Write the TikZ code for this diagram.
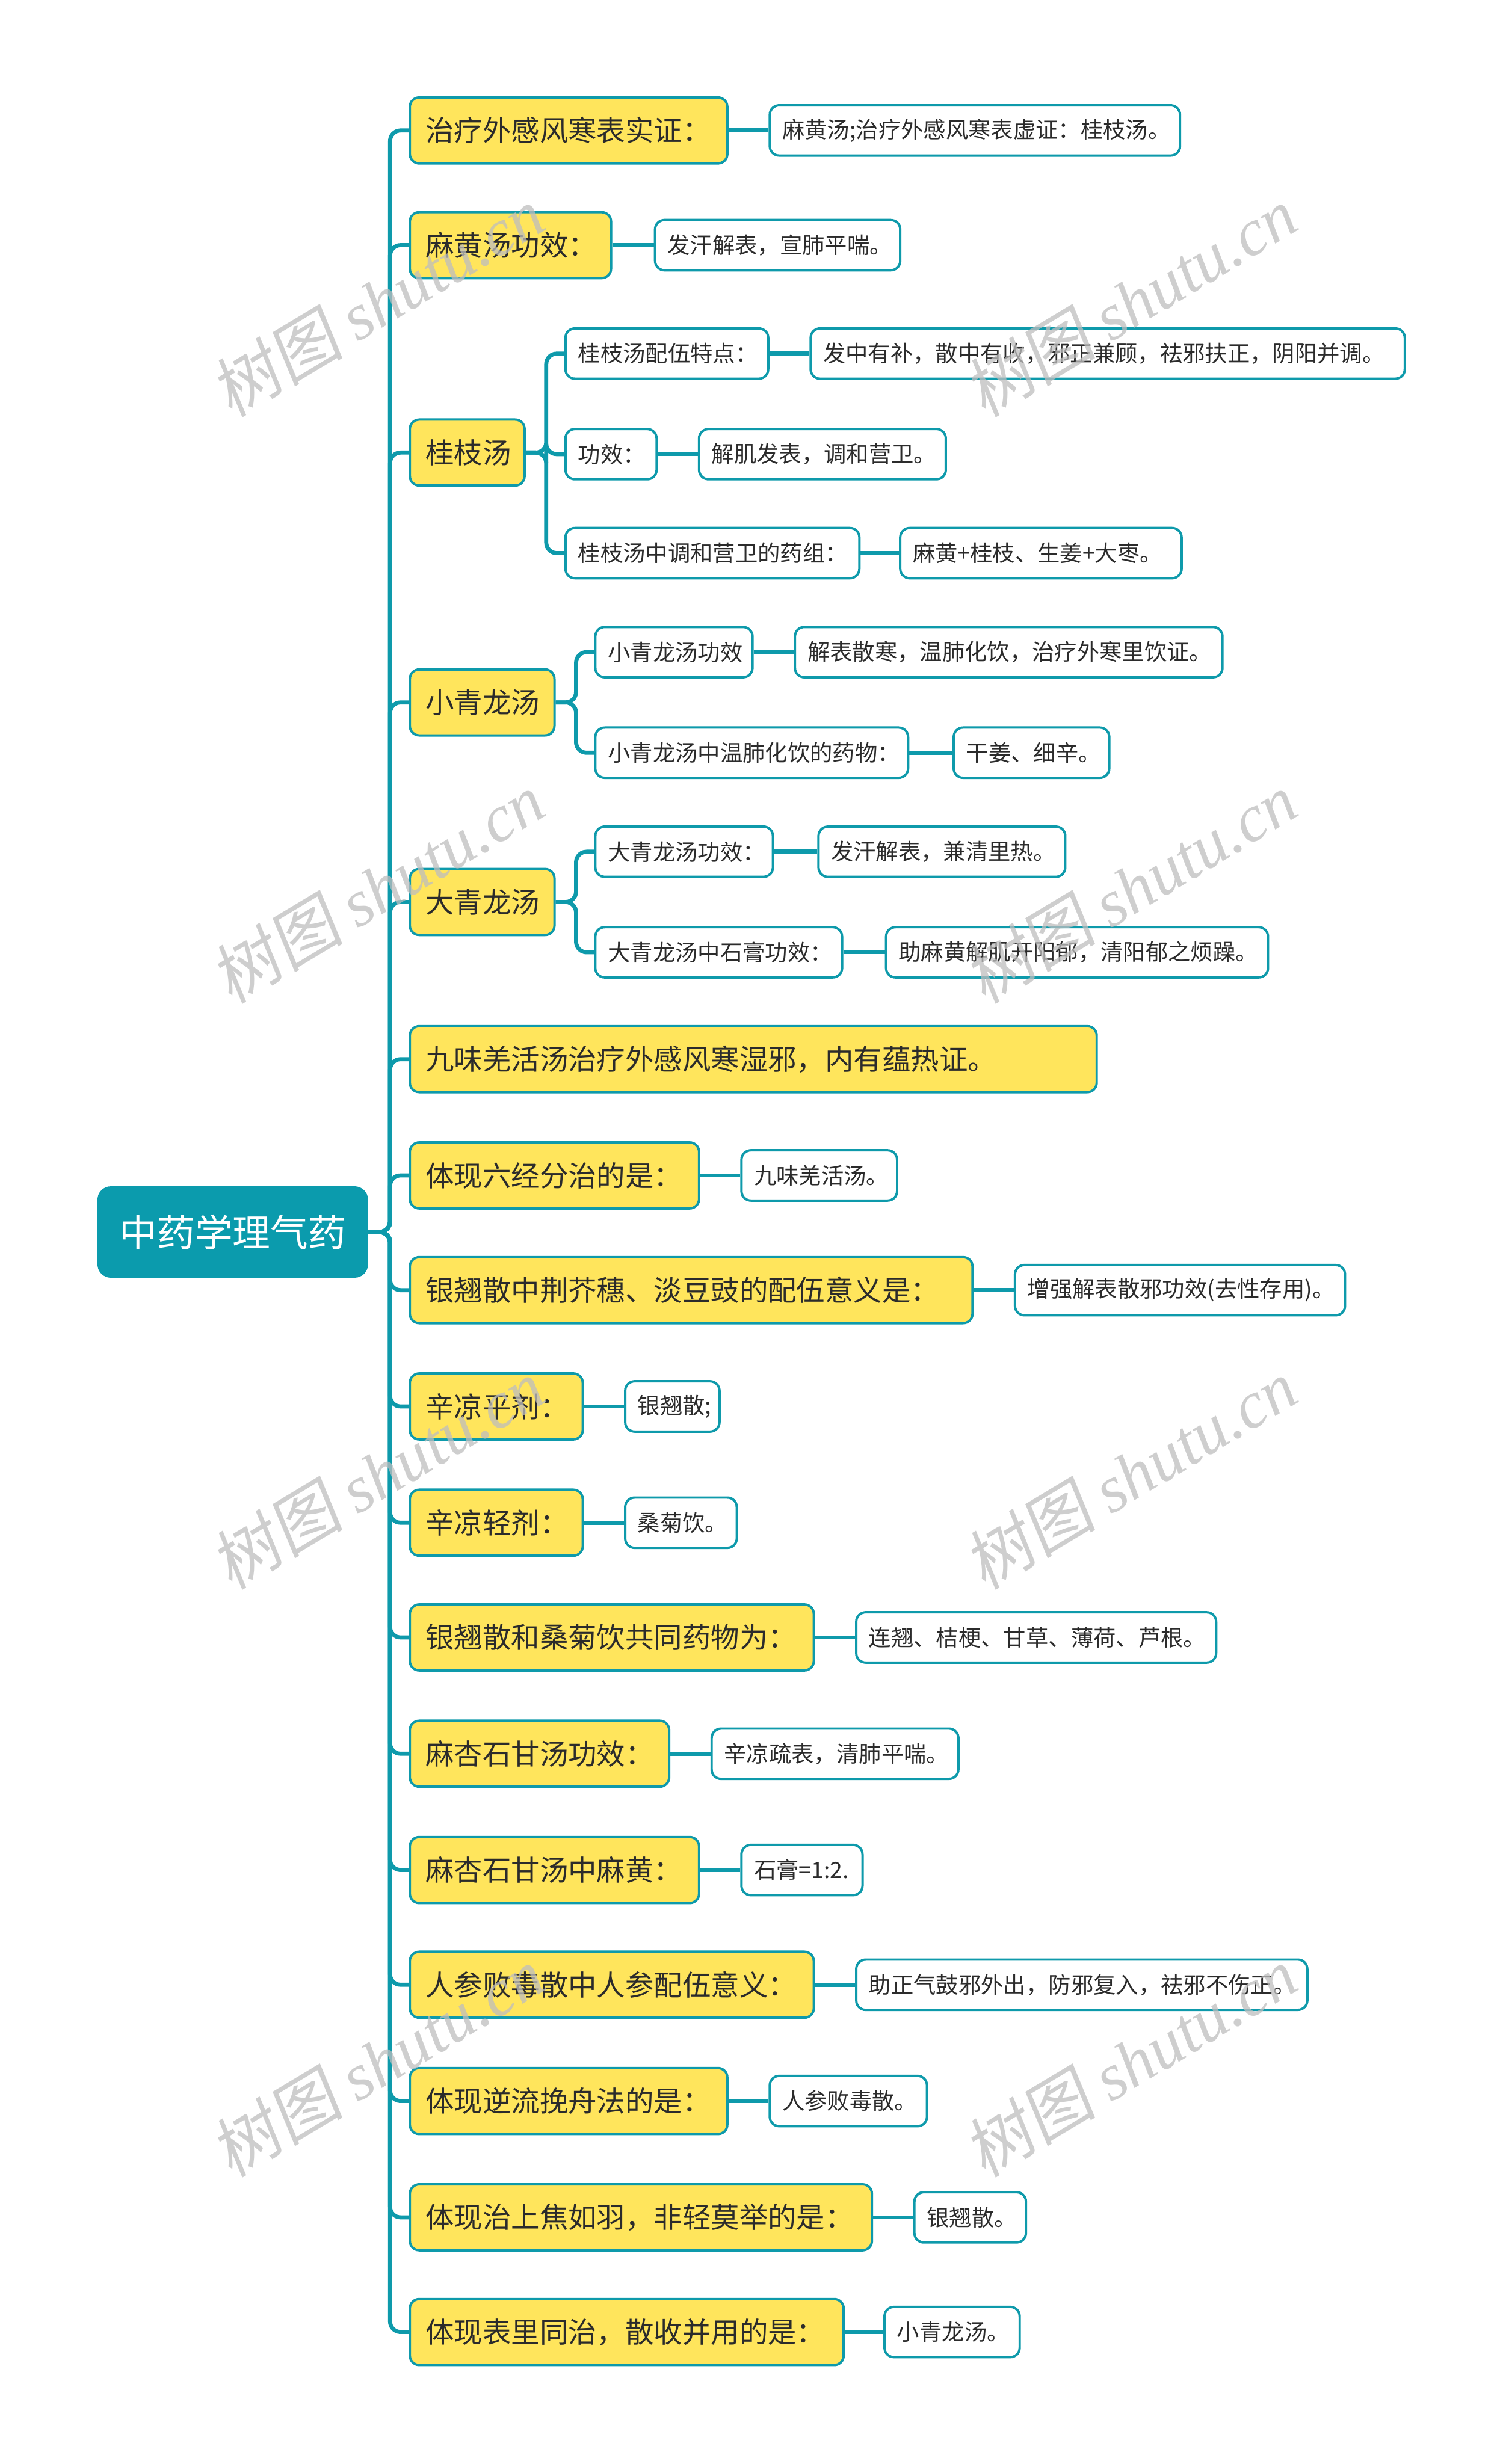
\documentclass[tikz,border=0pt]{standalone}
\usepackage{fontspec}
\setmainfont{Noto Sans CJK SC}
\newfontfamily\wmcjk[FakeSlant=0.15]{Noto Sans CJK SC}
\newfontfamily\wmlat{Liberation Serif}
\definecolor{tealc}{HTML}{0E9AAB}
\definecolor{rootc}{HTML}{0B9BAD}
\definecolor{yel}{HTML}{FFE55C}
\definecolor{txt}{HTML}{2B2B2B}
\definecolor{wmc}{HTML}{BEBEBE}
\newlength\uw
\setlength\uw{0.03cm}
\newcommand\yt[2]{\makebox[\dimexpr#1\uw-20\uw\relax][l]{#2}}
\newcommand\wt[2]{\makebox[\dimexpr#1\uw-16\uw\relax][l]{#2}}
\begin{document}
\begin{tikzpicture}[x=0.03cm,y=-0.03cm,
  ybox/.style={draw=tealc, line width=1.3pt, fill=yel, rounded corners=0.18cm,
    minimum height=1.26cm, inner xsep=0.3cm, inner ysep=0pt, anchor=west,
    text=txt, font=\fontsize{15.5}{18}\selectfont},
  wbox/.style={draw=tealc, line width=1.3pt, fill=white, rounded corners=0.18cm,
    minimum height=0.96cm, inner xsep=0.24cm, inner ysep=0pt, anchor=west,
    text=txt, font=\fontsize{12.2}{14}\selectfont},
  rootbox/.style={draw=rootc, line width=1pt, fill=rootc, rounded corners=0.24cm,
    minimum height=1.71cm, minimum width=5.13cm, inner sep=0pt, anchor=west,
    text=white, font=\fontsize{20.5}{24}\selectfont},
  conn/.style={draw=tealc, line width=2.2pt, rounded corners=0.2cm},
  link/.style={draw=tealc, line width=2.2pt},
  wm/.style={text=wmc, opacity=0.75, rotate=31, inner sep=0pt,
    font=\fontsize{36}{40}\selectfont}
]
\useasboundingbox (0,0) rectangle (956,1568);

% root
\node[rootbox] (root) at (62,784) {中药学理气药};

% level 1
\node[ybox] (n1) at (260,83) {\yt{202}{治疗外感风寒表实证：}};
\node[ybox] (n2) at (260,156) {\yt{128}{麻黄汤功效：}};
\node[ybox] (n3) at (260,288) {\yt{73}{桂枝汤}};
\node[ybox] (n4) at (260,447) {\yt{92}{小青龙汤}};
\node[ybox] (n5) at (260,574) {\yt{92}{大青龙汤}};
\node[ybox] (n6) at (260,674) {\yt{437}{九味羌活汤治疗外感风寒湿邪，内有蕴热证。}};
\node[ybox] (n7) at (260,748) {\yt{184}{体现六经分治的是：}};
\node[ybox] (n8) at (260,821) {\yt{358}{银翘散中荆芥穗、淡豆豉的配伍意义是：}};
\node[ybox] (n9) at (260,895) {\yt{110}{辛凉平剂：}};
\node[ybox] (n10) at (260,969) {\yt{110}{辛凉轻剂：}};
\node[ybox] (n11) at (260,1042) {\yt{257}{银翘散和桑菊饮共同药物为：}};
\node[ybox] (n12) at (260,1116) {\yt{165}{麻杏石甘汤功效：}};
\node[ybox] (n13) at (260,1190) {\yt{184}{麻杏石甘汤中麻黄：}};
\node[ybox] (n14) at (260,1263) {\yt{257}{人参败毒散中人参配伍意义：}};
\node[ybox] (n15) at (260,1337) {\yt{202}{体现逆流挽舟法的是：}};
\node[ybox] (n16) at (260,1411) {\yt{294}{体现治上焦如羽，非轻莫举的是：}};
\node[ybox] (n17) at (260,1484) {\yt{276}{体现表里同治，散收并用的是：}};

% level 2 / 3
\node[wbox] (c1) at (489,83) {\wt{261}{麻黄汤;治疗外感风寒表虚证：桂枝汤。}};
\node[wbox] (c2) at (416,156) {\wt{156}{发汗解表，宣肺平喘。}};

\node[wbox] (n3a) at (359,225) {\wt{129}{桂枝汤配伍特点：}};
\node[wbox] (n3aa) at (515,225) {\wt{378}{发中有补，散中有收，邪正兼顾，祛邪扶正，阴阳并调。}};
\node[wbox] (n3b) at (359,289) {\wt{58}{功效：}};
\node[wbox] (n3ba) at (444,289) {\wt{157}{解肌发表，调和营卫。}};
\node[wbox] (n3c) at (359,352) {\wt{187}{桂枝汤中调和营卫的药组：}};
\node[wbox] (n3ca) at (572,352) {\wt{179}{麻黄+桂枝、生姜+大枣。}};

\node[wbox] (n4a) at (378,415) {\wt{100}{小青龙汤功效}};
\node[wbox] (n4aa) at (505,415) {\wt{272}{解表散寒，温肺化饮，治疗外寒里饮证。}};
\node[wbox] (n4b) at (378,479) {\wt{199}{小青龙汤中温肺化饮的药物：}};
\node[wbox] (n4ba) at (606,479) {\wt{99}{干姜、细辛。}};

\node[wbox] (n5a) at (378,542) {\wt{113}{大青龙汤功效：}};
\node[wbox] (n5aa) at (520,542) {\wt{157}{发汗解表，兼清里热。}};
\node[wbox] (n5b) at (378,606) {\wt{157}{大青龙汤中石膏功效：}};
\node[wbox] (n5ba) at (563,606) {\wt{243}{助麻黄解肌开阳郁，清阳郁之烦躁。}};

\node[wbox] (c7) at (471,748) {\wt{99}{九味羌活汤。}};
\node[wbox] (c8) at (645,821) {\wt{210}{增强解表散邪功效(去性存用)。}};
\node[wbox] (c9) at (397,895) {\wt{60}{银翘散;}};
\node[wbox] (c10) at (397,969) {\wt{71}{桑菊饮。}};
\node[wbox] (c11) at (544,1042) {\wt{229}{连翘、桔梗、甘草、薄荷、芦根。}};
\node[wbox] (c12) at (452,1116) {\wt{157}{辛凉疏表，清肺平喘。}};
\node[wbox] (c13) at (471,1190) {\wt{77}{石膏=1:2.}};
\node[wbox] (c14) at (544,1263) {\wt{287}{助正气鼓邪外出，防邪复入，祛邪不伤正。}};
\node[wbox] (c15) at (489,1337) {\wt{100}{人参败毒散。}};
\node[wbox] (c16) at (581,1411) {\wt{71}{银翘散。}};
\node[wbox] (c17) at (562,1484) {\wt{86}{小青龙汤。}};

% trunk connectors
\foreach \n in {n1,n2,n3,n4,n5,n6,n7,n8,n9,n10,n11,n12,n13,n14,n15,n16,n17}
  \draw[conn] (root.east) -- ++(14,0) |- (\n.west);

% sub-branch connectors
\foreach \n in {n3a,n3b,n3c}
  \draw[conn] (n3.east) -- ++(13,0) |- (\n.west);
\foreach \n in {n4a,n4b}
  \draw[conn] (n4.east) -- ++(13,0) |- (\n.west);
\foreach \n in {n5a,n5b}
  \draw[conn] (n5.east) -- ++(13,0) |- (\n.west);

% leaf links
\draw[link] (n1.east) -- (c1.west);
\draw[link] (n2.east) -- (c2.west);
\draw[link] (n3a.east) -- (n3aa.west);
\draw[link] (n3b.east) -- (n3ba.west);
\draw[link] (n3c.east) -- (n3ca.west);
\draw[link] (n4a.east) -- (n4aa.west);
\draw[link] (n4b.east) -- (n4ba.west);
\draw[link] (n5a.east) -- (n5aa.west);
\draw[link] (n5b.east) -- (n5ba.west);
\draw[link] (n7.east) -- (c7.west);
\draw[link] (n8.east) -- (c8.west);
\draw[link] (n9.east) -- (c9.west);
\draw[link] (n10.east) -- (c10.west);
\draw[link] (n11.east) -- (c11.west);
\draw[link] (n12.east) -- (c12.west);
\draw[link] (n13.east) -- (c13.west);
\draw[link] (n14.east) -- (c14.west);
\draw[link] (n15.east) -- (c15.west);
\draw[link] (n16.east) -- (c16.west);
\draw[link] (n17.east) -- (c17.west);

% watermarks
\node[wm] (wm1) at (240,192) {{\wmcjk 树图} {\wmlat\itshape shutu.cn}};
\node[wm] (wm2) at (719,192) {{\wmcjk 树图} {\wmlat\itshape shutu.cn}};
\node[wm] (wm3) at (240,565) {{\wmcjk 树图} {\wmlat\itshape shutu.cn}};
\node[wm] (wm4) at (719,565) {{\wmcjk 树图} {\wmlat\itshape shutu.cn}};
\node[wm] (wm5) at (240,938) {{\wmcjk 树图} {\wmlat\itshape shutu.cn}};
\node[wm] (wm6) at (719,938) {{\wmcjk 树图} {\wmlat\itshape shutu.cn}};
\node[wm] (wm7) at (240,1312) {{\wmcjk 树图} {\wmlat\itshape shutu.cn}};
\node[wm] (wm8) at (719,1312) {{\wmcjk 树图} {\wmlat\itshape shutu.cn}};
\end{tikzpicture}
\end{document}
